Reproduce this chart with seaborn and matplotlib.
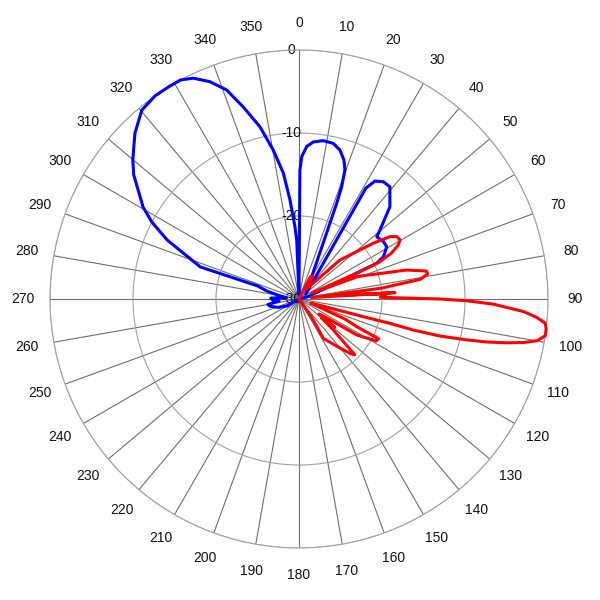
import numpy as np
import pandas as pd
import matplotlib
matplotlib.use("Agg")
import matplotlib.pyplot as plt
import matplotlib.transforms as mtransforms
import seaborn as sns

# values (angle in degrees, level in dB), in drawing order
blue_deg = [90, 230, 240, 248, 256, 260, 264, 268, 272, 276, 280, 284, 287.5, 288,
            294.1, 297.6, 300.5, 304.1, 306.9, 309.9, 312.5, 315.3, 320.2, 324.7,
            328.5, 331.6, 334.4, 337.7, 340.9, 343.8, 347.2, 350.2, 352.9, 354.8,
            356.8, 357.8, 359.5,
            0.4, 1.1, 2.9, 5.2, 8.7, 12.4, 15.4, 17.9, 19.6, 20.8, 21.5, 54.5,
            31.1, 32.8, 35.7, 39, 44.6, 49.6, 51.3, 55.8, 59.2, 63.4, 65.3, 75.7, 90]
blue_db = [-30, -30, -28.3, -27.3, -26.4, -26.2, -27.6, -26.8, -26.6, -28.5, -27.5, -26,
           -24.8, -17.5,
           -12.6, -10.0, -8.2, -6.6, -5.1, -3.9, -3.0, -1.9, -0.4, 0,
           0, 0, -0.5, -1.7, -3.35, -5.9, -8.7, -11.8, -14.7, -18.0,
           -21.3, -22.9, -29.5,
           -14.5, -12.85, -11.6, -11.0, -10.7, -10.8, -11.4, -12.4, -13.5, -15.5, -17.6,
           -29,
           -14.4, -13.1, -12.6, -12.6, -14.4, -17.2, -18.0, -17.7, -17.7, -18.6, -19.7,
           -28.9, -30]

red_deg = [0, 24, 27, 31, 36, 40, 43, 46.4, 53.1, 55.6, 57.5, 59.7, 61.5, 63.5, 65.3,
           66, 65.2, 68.9, 74.9, 77.6, 79.0, 80.8, 82.5, 83.5, 86.2, 84.6, 86.7, 88.8,
           90.0, 90.6, 91.5, 93.2, 94.4, 95.6, 96.9, 98.5, 99.95, 101.0, 101.9, 102.9,
           103.7, 104.7, 105.2, 105.0, 105.4, 107.5, 110, 113.5, 115.6, 116.5, 118.5,
           121.9, 125, 127, 128.5, 130, 132, 135, 136.5, 140.2, 144, 148.3, 145.7, 152,
           360]
red_db = [-30, -30, -27, -26.8, -28.5, -27.8, -27, -23.2, -18.8, -16.7, -16.0, -15.9,
          -16.4, -17.5, -19.3, -22.4, -28.3, -22.5, -16.6, -14.3, -14.2, -15.2, -20.0,
          -28.5, -18.4, -24.8, -19.4, -20.2,
          -13.0, -9.8, -6.6, -2.9, -1.3, -0.2, 0, 0, -0.9, -2.5, -4.4, -6.8,
          -9.2, -12.4, -15.7, -18.6, -22, -28, -28.5, -24, -22.3, -19.3, -19.4,
          -21.8, -26.5, -27, -24.5, -26.5, -24.5, -20.5, -20.9, -22.3, -23.5, -24.4,
          -27, -30, -30]

angle_ticks = list(range(0, 360, 10))
ring_ticks = [-30, -20, -10, 0]

sns.set_style("white")
plt.rcParams['font.family'] = ['Liberation Sans', 'DejaVu Sans']

fig = plt.figure(figsize=(6, 6), dpi=100)
ax = fig.add_axes([50 / 600, 52 / 600, 498 / 600, 498 / 600], projection='polar')
ax.set_theta_zero_location('N')
ax.set_theta_direction(-1)

blue = pd.DataFrame({'theta': np.deg2rad(blue_deg), 'db': blue_db})
red = pd.DataFrame({'theta': np.deg2rad(red_deg), 'db': red_db})
sns.lineplot(data=blue, x='theta', y='db', sort=False, estimator=None,
             color='#0000ff', linewidth=2.2, ax=ax, clip_on=False, zorder=3)
sns.lineplot(data=red, x='theta', y='db', sort=False, estimator=None,
             color='#ff0000', linewidth=2.2, ax=ax, clip_on=False, zorder=4)

ax.set_ylim(-30, 0)
ax.set_xticks(np.deg2rad(angle_ticks))
ax.set_xticklabels([str(a) for a in angle_ticks])
ax.set_yticks(ring_ticks)
ax.set_yticklabels([])
ax.set_xlabel('')
ax.set_ylabel('')
ax.xaxis.grid(True, color='#6e6e6e', linewidth=0.8)
ax.yaxis.grid(True, color='#a0a0a0', linewidth=0.8)
ax.spines['polar'].set_color('#a0a0a0')
ax.spines['polar'].set_linewidth(0.8)
ax.tick_params(axis='x', pad=9, labelsize=10, colors='#111111')

# ring labels along the 0 degree spoke, a bit to the left
trans = mtransforms.offset_copy(ax.transData, fig=fig, x=-8, y=0, units='dots')
for v in ring_ticks:
    ax.text(0, v, str(v), transform=trans, ha='center', va='center',
            fontsize=10, color='#111111', zorder=2)

fig.savefig('out.png', dpi=100)
